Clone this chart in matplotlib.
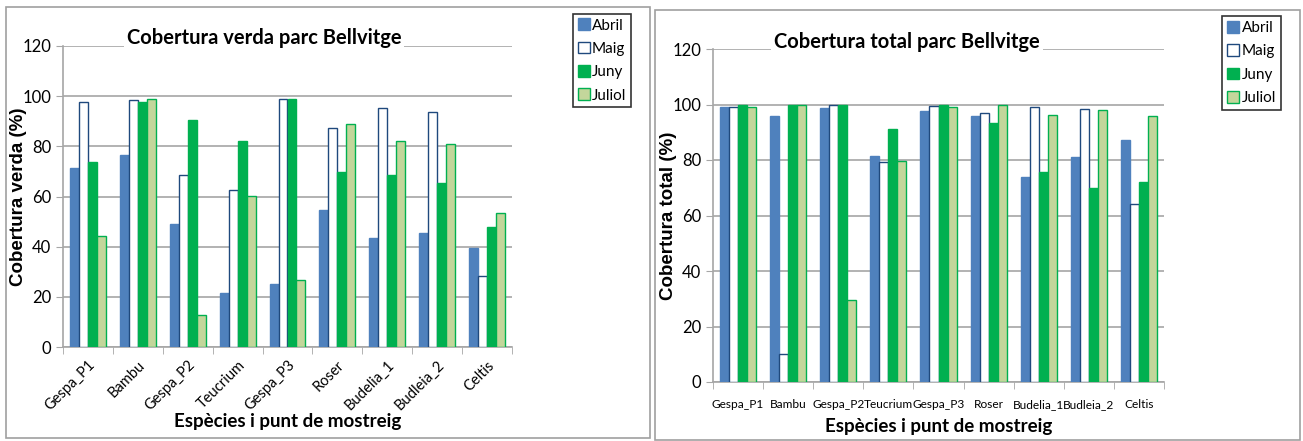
import numpy as np
import matplotlib
matplotlib.use("Agg")
import matplotlib.pyplot as plt
from matplotlib.patches import Patch, Rectangle

plt.rcParams['font.family'] = ['Lato', 'DejaVu Sans']

especies = ['Gespa_P1', 'Bambu', 'Gespa_P2', 'Teucrium', 'Gespa_P3', 'Roser',
            'Budelia_1', 'Budleia_2', 'Celtis']
mesos = ['Abril', 'Maig', 'Juny', 'Juliol']

# cobertura verda (%)
verda_abril = [71.4, 76.6, 49.1, 21.5, 25.0, 54.8, 43.4, 45.6, 39.4]
verda_maig = [97.6, 98.3, 68.4, 62.6, 98.7, 87.4, 95.4, 93.5, 28.3]
verda_juny = [73.7, 97.8, 90.3, 82.2, 98.8, 69.7, 68.5, 65.2, 47.9]
verda_juliol = [44.3, 98.8, 12.9, 60.3, 26.6, 89.0, 82.1, 81.0, 53.6]

# cobertura total (%)
total_abril = [99.1, 96.0, 98.6, 81.6, 97.7, 96.0, 73.8, 81.0, 87.2]
total_maig = [99.0, 10.0, 99.9, 79.3, 99.5, 96.8, 99.0, 98.4, 64.3]
total_juny = [100.0, 100.0, 100.0, 91.3, 99.7, 93.5, 75.8, 70.0, 72.2]
total_juliol = [99.0, 100.0, 29.5, 79.8, 99.0, 100.0, 96.3, 97.9, 95.9]

faces = ['#4F81BD', 'white', '#00B050', '#C3D69B']
edges = ['#4F81BD', '#1F497D', '#00B050', '#00B050']
grid_c = '#A6A6A6'


def panel(fig, rect, series, title, ylabel, rotate, title_xy, leg_rect, frame):
    fig.add_artist(Rectangle(frame[:2], frame[2], frame[3], transform=fig.transFigure,
                             fill=False, edgecolor='#A0A0A0', lw=1.2))
    ax = fig.add_axes(rect)
    x = np.arange(len(especies))
    w = 0.18
    for i, vals in enumerate(series):
        ax.bar(x + (i - 1.5) * w, vals, w, color=faces[i], edgecolor=edges[i],
               linewidth=1.0, zorder=3)
    ax.set_xlim(-0.5, len(especies) - 0.5)
    ax.set_ylim(0, 120)
    ax.set_yticks(range(0, 121, 20))
    ax.yaxis.grid(True, color=grid_c, lw=1.2, zorder=0)
    ax.set_axisbelow(True)
    for s in ['top', 'right']:
        ax.spines[s].set_visible(False)
    ax.spines['left'].set_color(grid_c)
    ax.spines['bottom'].set_color(grid_c)
    ax.spines['left'].set_linewidth(1.2)
    ax.spines['bottom'].set_linewidth(1.2)
    ax.tick_params(axis='y', colors=grid_c, labelcolor='black', labelsize=12, length=5)
    ax.set_xticks(x)
    ax.set_xticks(np.arange(-0.5, len(especies), 1), minor=True)
    ax.tick_params(axis='x', which='minor', length=5, colors=grid_c)
    if rotate:
        ax.tick_params(axis='x', which='major', length=0, pad=8)
        ax.set_xticklabels(especies, rotation=45, ha='right', rotation_mode='anchor',
                           fontsize=10.5)
        ax.set_xlabel('Espècies i punt de mostreig', fontsize=13.5, fontweight='bold',
                      labelpad=0)
    else:
        ax.tick_params(axis='x', which='major', length=0, pad=12)
        ax.set_xticklabels(especies, fontsize=8.6)
        ax.set_xlabel('Espècies i punt de mostreig', fontsize=13.5, fontweight='bold',
                      labelpad=6)
    ax.set_ylabel(ylabel, fontsize=13.5, fontweight='bold',
                  family=['Liberation Sans', 'DejaVu Sans'])
    ax.yaxis.set_label_coords(-0.08, 0.5)
    fig.text(title_xy[0], title_xy[1], title, ha='center', va='center', fontsize=14.5,
             fontweight='bold', zorder=10,
             bbox=dict(facecolor='white', edgecolor='none', pad=2))
    handles = [Patch(facecolor=faces[i], edgecolor=edges[i], label=mesos[i])
               for i in range(4)]
    lax = fig.add_axes(leg_rect)
    lax.axis('off')
    leg = lax.legend(handles=handles, loc='center', frameon=True, fontsize=11,
                     handlelength=0.8, handleheight=0.8, handletextpad=0.15,
                     borderpad=0.3, labelspacing=0.6, fancybox=False,
                     borderaxespad=0)
    leg.get_frame().set_edgecolor('black')
    leg.get_frame().set_linewidth(1.2)
    return ax


fig = plt.figure(figsize=(13.03, 4.41), dpi=100)
W, H = 1303.0, 441.0

panel(fig, [63 / W, 1 - 347 / H, 449 / W, 301 / H],
      [verda_abril, verda_maig, verda_juny, verda_juliol],
      'Cobertura verda parc Bellvitge', 'Cobertura verda (%)', True,
      (264 / W, 1 - 38 / H), [576 / W, 1 - 107 / H, 52 / W, 93 / H],
      (6 / W, 1 - 438 / H, 644 / W, 431 / H))

panel(fig, [713 / W, 1 - 382 / H, 451 / W, 333 / H],
      [total_abril, total_maig, total_juny, total_juliol],
      'Cobertura total parc Bellvitge', 'Cobertura total (%)', False,
      (907 / W, 1 - 42 / H), [1226 / W, 1 - 109 / H, 51 / W, 92 / H],
      (655 / W, 1 - 440 / H, 645 / W, 430 / H))

fig.savefig('out.png', dpi=100)
